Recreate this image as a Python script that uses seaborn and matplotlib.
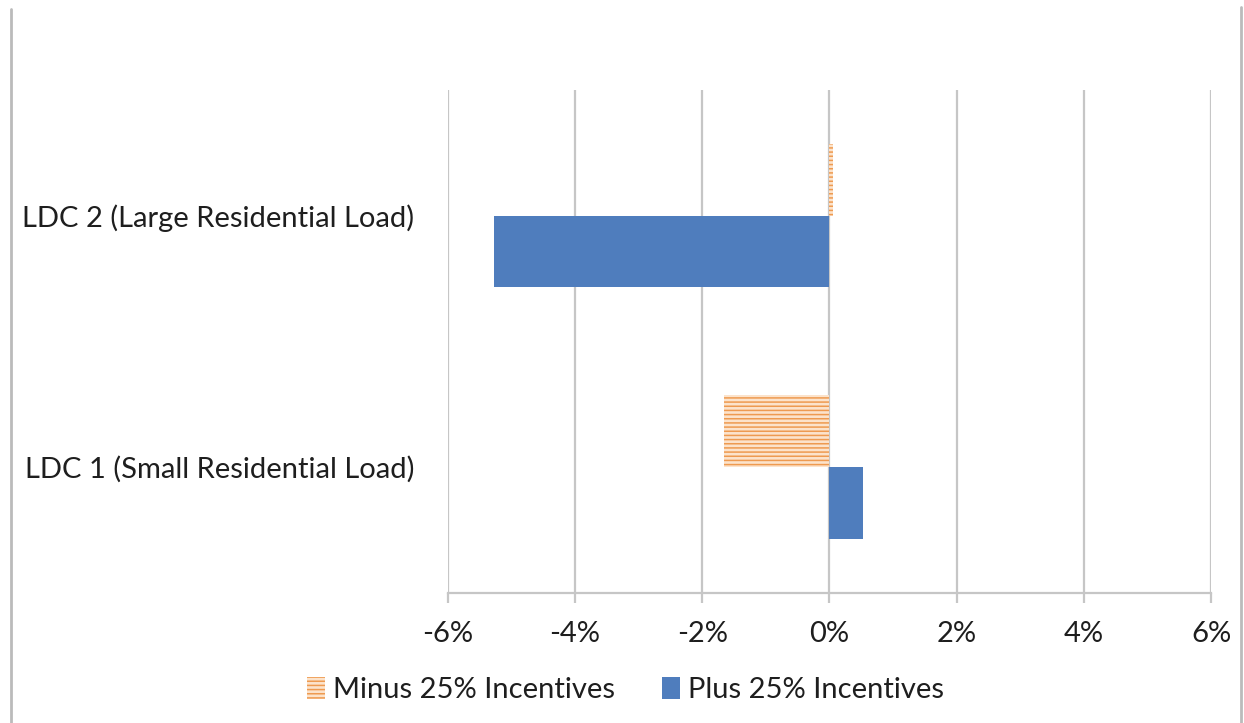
import matplotlib.pyplot as plt
import matplotlib.lines as mlines
import numpy as np
import pandas as pd
import seaborn as sns
from matplotlib.ticker import PercentFormatter

categories = ["LDC 2 (Large Residential Load)", "LDC 1 (Small Residential Load)"]
series = ["Minus 25% Incentives", "Plus 25% Incentives"]
minus_vals = [0.06, -1.65]
plus_vals = [-5.28, 0.53]
x_ticks = [-6, -4, -2, 0, 2, 4, 6]

df = pd.DataFrame({
    "category": categories * 2,
    "series": [series[0]] * 2 + [series[1]] * 2,
    "value": minus_vals + plus_vals,
})

sns.set_style("white")
plt.rcParams["font.family"] = ["Lato", "DejaVu Sans"]
plt.rcParams["axes.unicode_minus"] = False
plt.rcParams["hatch.linewidth"] = 1.1

fig = plt.figure(figsize=(12.44, 7.23), dpi=100)
ax = fig.add_axes([0.360, 0.18, 0.6135, 0.6955])

grid_col = "#C6C6C6"
blue = "#4F7DBD"
orange = "#EE9A50"
peach = "#FCE3CB"
txt = "#1E1E1E"

sns.barplot(data=df, x="value", y="category", hue="series",
            order=categories, hue_order=series, orient="h",
            palette=[peach, blue], saturation=1, width=0.57, ax=ax, legend=False)

# minus series bars get the horizontal line hatch
for bar in ax.containers[0]:
    bar.set_hatch("----")
    bar.set_edgecolor(orange)
    bar.set_linewidth(0)
for bar in ax.containers[1]:
    bar.set_linewidth(0)

ax.set_xlim(-6, 6)
ax.set_xticks(x_ticks)
ax.xaxis.set_major_formatter(PercentFormatter(decimals=0))
ax.set_ylim(1.5, -0.5)
for x in x_ticks:
    ax.axvline(x, color=grid_col, lw=1.6, zorder=0)

for s in ["top", "right", "left"]:
    ax.spines[s].set_visible(False)
ax.spines["bottom"].set_color(grid_col)
ax.spines["bottom"].set_linewidth(1.6)

ax.tick_params(axis="x", length=7, width=1.6, color=grid_col, pad=13,
               labelsize=21, labelcolor=txt, bottom=True)
ax.tick_params(axis="y", length=0, pad=24, labelsize=21, labelcolor=txt)
ax.set_xlabel("")
ax.set_ylabel("")

handles = [
    plt.Rectangle((0, 0), 1, 1, facecolor=peach, edgecolor=orange, hatch="----", lw=0),
    plt.Rectangle((0, 0), 1, 1, facecolor=blue, lw=0),
]
fig.legend(handles, series, loc="center", bbox_to_anchor=(0.503, 0.046),
           ncol=2, frameon=False, fontsize=21, handlelength=0.6,
           handleheight=0.8, handletextpad=0.3, columnspacing=1.6,
           labelcolor=txt)

# outer chart frame
fig.add_artist(mlines.Line2D([0.0085, 0.0085], [0, 0.988], color="#BBBBBB", lw=2,
                             transform=fig.transFigure))
fig.add_artist(mlines.Line2D([0.9975, 0.9975], [0, 0.99], color="#BBBBBB", lw=2,
                             transform=fig.transFigure))

fig.savefig("out.png", dpi=100)
